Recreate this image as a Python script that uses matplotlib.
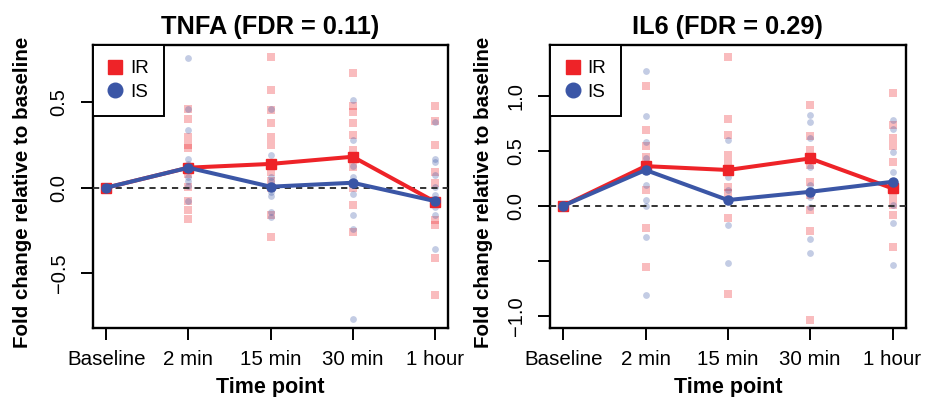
import matplotlib
matplotlib.use("Agg")
import matplotlib.pyplot as plt
from matplotlib.lines import Line2D

plt.rcParams['font.family'] = ['Liberation Sans', 'DejaVu Sans']

time_points = ["Baseline", "2 min", "15 min", "30 min", "1 hour"]

# per-subject fold changes, one list per time point
tnfa_ir_pts = [
    [0.0],
    [0.46, 0.40, 0.295, 0.25, 0.23, 0.08, 0.006, -0.078, -0.13, -0.18],
    [0.766, 0.571, 0.454, 0.376, 0.295, 0.25, 0.09, 0.04, -0.004, -0.16, -0.29],
    [0.67, 0.48, 0.44, 0.376, 0.31, 0.22, 0.12, 0.0, -0.10, -0.26],
    [0.48, 0.39, 0.25, 0.094, 0.026, -0.19, -0.22, -0.41, -0.63],
]
tnfa_is_pts = [
    [0.0],
    [0.76, 0.46, 0.336, 0.166, 0.14, 0.062, 0.04, 0.012, -0.078],
    [0.46, 0.19, 0.064, 0.04, -0.023, -0.05, -0.14, -0.17],
    [0.51, 0.28, 0.127, 0.064, -0.037, -0.16, -0.24, -0.77],
    [0.386, 0.17, 0.15, 0.074, 0.006, -0.04, -0.11, -0.16, -0.36],
]
tnfa_ir_mean = [0.0, 0.117, 0.139, 0.181, -0.082]
tnfa_is_mean = [0.0, 0.117, 0.006, 0.029, -0.078]

il6_ir_pts = [
    [0.0],
    [1.09, 0.69, 0.54, 0.445, 0.14, -0.20, -0.56],
    [1.35, 0.79, 0.64, 0.46, 0.385, 0.17, 0.12, -0.11, -0.80],
    [0.915, 0.63, 0.51, 0.37, 0.22, 0.10, -0.04, -0.23, -1.04],
    [1.02, 0.73, 0.62, 0.54, 0.40, 0.08, 0.006, -0.085, -0.37],
]
il6_is_pts = [
    [0.0],
    [1.22, 0.815, 0.58, 0.43, 0.19, 0.05, 0.0, -0.28, -0.81],
    [0.60, 0.26, 0.14, -0.175, -0.52],
    [0.82, 0.76, 0.62, 0.355, 0.19, 0.08, -0.01, -0.30, -0.43],
    [0.78, 0.70, 0.49, 0.31, 0.17, 0.006, -0.155, -0.54],
]
il6_ir_mean = [0.0, 0.36, 0.325, 0.43, 0.158]
il6_is_mean = [0.0, 0.325, 0.052, 0.127, 0.218]

RED = "#EE2328"
BLUE = "#3B56A6"


def draw_panel(ax, title, ir_pts, is_pts, ir_mean, is_mean, ylim, yticks, yticklabels, ylab_x):
    x = list(range(1, len(time_points) + 1))
    for i, (a, b) in enumerate(zip(ir_pts, is_pts)):
        ax.scatter([x[i]] * len(a), a, marker="s", s=28, color=RED, alpha=0.3,
                   linewidths=0, zorder=2)
        ax.scatter([x[i]] * len(b), b, marker="o", s=24, color=BLUE, alpha=0.3,
                   linewidths=0, zorder=2)
    ax.axhline(0, color="#333333", lw=1.4, ls=(0, (3.2, 2.6)), zorder=3)
    ax.plot(x, ir_mean, color=RED, lw=2.9, marker="s", ms=7, zorder=4)
    ax.plot(x, is_mean, color=BLUE, lw=2.9, marker="o", ms=6.5, zorder=5)

    ax.set_xlim(0.84, 5.16)
    ax.set_ylim(*ylim)
    ax.set_xticks(x)
    ax.set_xticklabels(time_points, fontsize=14.8)
    ax.set_yticks(yticks)
    ax.set_yticklabels(yticklabels, fontsize=14.5, rotation=90, va="center")
    ax.tick_params(direction="out", length=8.6, width=1.4)
    ax.tick_params(axis="y", pad=9)
    ax.tick_params(axis="x", pad=7)
    for sp in ax.spines.values():
        sp.set_linewidth(1.7)

    ax.set_title(title, fontsize=18.3, fontweight="bold", pad=8)
    ax.set_xlabel("Time point", fontsize=15.5, fontweight="bold")
    ax.xaxis.set_label_coords(0.5, -0.172)
    ax.set_ylabel("Fold change relative to baseline", fontsize=14.8, fontweight="bold")
    ax.yaxis.set_label_coords(ylab_x, 0.48)

    handles = [
        Line2D([], [], ls="none", marker="s", ms=10.5, color=RED),
        Line2D([], [], ls="none", marker="o", ms=10.5, color=BLUE),
    ]
    leg = ax.legend(handles, ["IR", "IS"], loc="upper left", fontsize=13.5, frameon=True,
                    fancybox=False, borderaxespad=0, handlelength=0.8, handletextpad=0.4,
                    borderpad=0.8, labelspacing=0.36, framealpha=1)
    leg.get_frame().set_edgecolor("black")
    leg.get_frame().set_linewidth(1.4)
    leg.set_zorder(6)


fig = plt.figure(figsize=(9.28, 3.97), dpi=100)
ax1 = fig.add_axes([0.1002, 0.1738, 0.3826, 0.7128])
ax2 = fig.add_axes([0.5927, 0.1738, 0.3833, 0.7128])

draw_panel(ax1, "TNFA (FDR = 0.11)", tnfa_ir_pts, tnfa_is_pts, tnfa_ir_mean, tnfa_is_mean,
           (-0.820, 0.834), [-0.5, 0.0, 0.5], ["\u22120.5", "0.0", "0.5"], -0.172)
draw_panel(ax2, "IL6 (FDR = 0.29)", il6_ir_pts, il6_is_pts, il6_ir_mean, il6_is_mean,
           (-1.11, 1.46), [-1.0, -0.5, 0.0, 0.5, 1.0], ["\u22121.0", "", "0.0", "0.5", "1.0"],
           -0.16)

fig.savefig("out.png", dpi=100)
